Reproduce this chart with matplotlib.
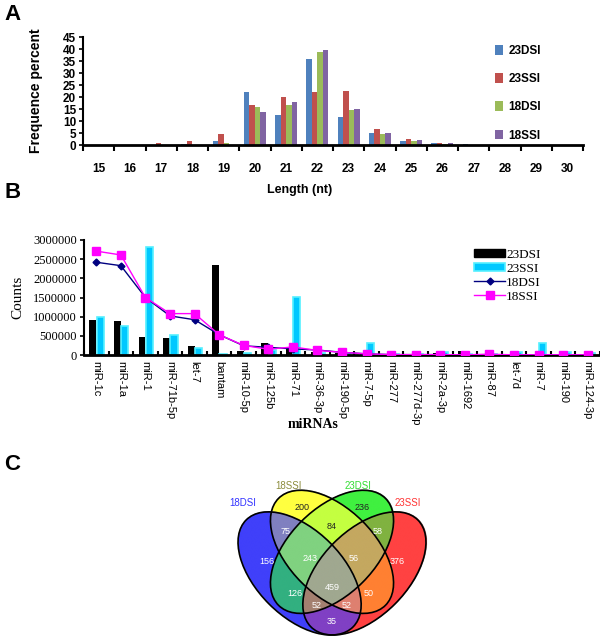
import numpy as np
import matplotlib
matplotlib.use("Agg")
import matplotlib.pyplot as plt
from matplotlib.patches import Ellipse, Patch
from matplotlib.lines import Line2D

# ---------------- Data ----------------
# Panel A
lengths = [str(v) for v in range(15, 31)]
a_23DSI = [0, 0, 0, 0.5, 1.5, 22.0, 12.7, 35.7, 11.6, 5.0, 1.8, 0.8, 0.5, 0, 0, 0]
a_23SSI = [0, 0.2, 0.8, 1.8, 4.7, 16.5, 20.0, 22.2, 22.4, 6.7, 2.6, 0.7, 0.1, 0, 0, 0]
a_18DSI = [0, 0, 0, 0.1, 0.8, 15.7, 16.7, 38.8, 14.7, 4.5, 1.5, 0.6, 0.1, 0, 0, 0]
a_18SSI = [0, 0, 0, 0.1, 0.2, 13.6, 17.8, 39.6, 15.1, 5.0, 2.0, 0.8, 0.1, 0, 0, 0]
a_series = ["23DSI", "23SSI", "18DSI", "18SSI"]

# Panel B
mirnas = ["miR-1c", "miR-1a", "miR-1", "miR-71b-5p", "let-7", "bantam", "miR-10-5p",
          "miR-125b", "miR-71", "miR-36-3p", "miR-190-5p", "miR-7-5p", "miR-277",
          "miR-277d-3p", "miR-2a-3p", "miR-1692", "miR-87", "let-7d", "miR-7",
          "miR-190", "miR-124-3p"]
b_23DSI = [920000, 880000, 460000, 440000, 240000, 2350000, 110000, 320000, 180000,
           90000, 60000, 50000, 30000, 30000, 40000, 110000, 20000, 10000, 20000, 10000, 10000]
b_23SSI = [980000, 760000, 2820000, 520000, 180000, 30000, 50000, 130000, 1520000,
           40000, 60000, 310000, 20000, 20000, 80000, 30000, 20000, 90000, 310000, 70000, 60000]
b_18DSI = [2420000, 2330000, 1500000, 1020000, 920000, 530000, 240000, 200000, 160000,
           130000, 70000, 30000, 10000, 10000, 10000, 5000, 10000, 5000, 5000, 5000, 5000]
b_18SSI = [2710000, 2610000, 1500000, 1080000, 1080000, 530000, 250000, 150000, 210000,
           120000, 70000, 30000, 10000, 10000, 10000, 5000, 20000, 5000, 5000, 5000, 5000]

# Panel C (Venn counts)
venn_sets = ["18DSI", "18SSI", "23DSI", "23SSI"]
# region key: membership tuple (18DSI, 18SSI, 23DSI, 23SSI)
venn_counts = {
    (1, 0, 0, 0): 156, (0, 1, 0, 0): 200, (0, 0, 1, 0): 236, (0, 0, 0, 1): 376,
    (1, 1, 0, 0): 75, (0, 1, 1, 0): 84, (0, 0, 1, 1): 58, (1, 1, 1, 0): 243,
    (0, 1, 1, 1): 56, (1, 0, 1, 0): 126, (0, 1, 0, 1): 50, (1, 1, 1, 1): 459,
    (1, 0, 1, 1): 52, (1, 1, 0, 1): 52, (1, 0, 0, 1): 35,
}

# ---------------- Figure ----------------
W, H = 600, 636
fig = plt.figure(figsize=(W / 100, H / 100), dpi=100)

def frac(x0, y0, x1, y1):
    return [x0 / W, 1 - y1 / H, (x1 - x0) / W, (y1 - y0) / H]

SANS = ["Liberation Sans", "DejaVu Sans"]
SERIF = ["Liberation Serif", "DejaVu Serif"]

# Panel letters
for letter, (px, py) in zip("ABC", [(4, 15), (4, 193), (4, 465)]):
    fig.text(px / W, 1 - py / H, letter, fontsize=16, fontweight="bold",
             family=SANS, va="center", ha="left")

# ---------------- Panel A ----------------
axA = fig.add_axes(frac(83, 37, 583, 145))
colorsA = ["#4F81BD", "#C0504D", "#9BBB59", "#8064A2"]
xA = np.arange(len(lengths))
bw = 0.175
for i, (vals, c, lab) in enumerate(zip([a_23DSI, a_23SSI, a_18DSI, a_18SSI], colorsA, a_series)):
    axA.bar(xA + (i - 1.5) * bw, vals, width=bw, color=c, label=lab, linewidth=0)
axA.set_xlim(-0.5, len(lengths) - 0.5)
axA.set_ylim(0, 45)
axA.set_yticks(np.arange(0, 46, 5))
axA.set_xticks(np.arange(-0.5, len(lengths), 1.0))
axA.set_xticklabels([])
axA.set_xticks(xA, minor=True)
axA.set_xticklabels(lengths, minor=True)
axA.tick_params(axis="x", which="major", direction="out", length=4, width=1.5)
axA.tick_params(axis="x", which="minor", length=0, pad=13, labelsize=8.5)
axA.tick_params(axis="y", direction="out", length=3, width=1.2, labelsize=8.5, pad=2)
for lab in axA.get_xticklabels(minor=True) + axA.get_yticklabels():
    lab.set_fontweight("bold")
    lab.set_family(SANS)
for s in ["top", "right"]:
    axA.spines[s].set_visible(False)
axA.spines["bottom"].set_linewidth(2)
axA.spines["left"].set_linewidth(1.5)
axA.set_ylabel("Frequence percent", fontsize=10, fontweight="bold", family=SANS, labelpad=14)
fig.text(300 / W, 1 - 190 / H, "Length (nt)", fontsize=9, fontweight="bold",
         family=SANS, ha="center", va="center")
legA = axA.legend(loc="upper left", bbox_to_anchor=(0.815, 0.972), frameon=False,
                  borderaxespad=0, handlelength=0.7, handleheight=0.9, labelspacing=1.38,
                  handletextpad=0.4, prop={"family": SANS, "weight": "bold", "size": 8.5})

# ---------------- Panel B ----------------
axB = fig.add_axes(frac(84, 240, 600, 355))
xB = np.arange(len(mirnas))
bwB = 0.28
axB.bar(xB - 0.14, b_23DSI, width=bwB, color="black", linewidth=0, zorder=2)
axB.bar(xB + 0.16, b_23SSI, width=bwB + 0.02, color="#00C8FF", edgecolor="#55F0FF",
        linewidth=1.2, zorder=2)
axB.plot(xB, b_18DSI, color="#000080", marker="D", markersize=3.5, linewidth=1.0, zorder=3)
axB.plot(xB, b_18SSI, color="#FF00FF", marker="s", markersize=5.5, linewidth=1.0, zorder=4)
axB.set_xlim(-0.5, len(mirnas) - 0.5)
axB.set_ylim(0, 3000000)
axB.set_yticks(np.arange(0, 3000001, 500000))
axB.set_yticklabels([str(v) for v in range(0, 3000001, 500000)], family=SERIF, fontsize=9)
axB.set_xticks(np.arange(-0.5, len(mirnas), 1.0))
axB.set_xticklabels([])
axB.set_xticks(xB, minor=True)
axB.set_xticklabels(mirnas, minor=True, rotation=270, family=SANS, fontsize=8, va="top", ha="center")
axB.tick_params(axis="x", which="major", direction="in", length=3, width=1.5)
axB.tick_params(axis="x", which="minor", length=0, pad=4)
axB.tick_params(axis="y", direction="out", length=3, width=1.2, pad=2)
for s in ["top", "right"]:
    axB.spines[s].set_visible(False)
axB.spines["bottom"].set_linewidth(2)
axB.spines["left"].set_linewidth(1.5)
fig.text(18 / W, 1 - 297 / H, "Counts", fontsize=11, family=SERIF, rotation=90,
         ha="center", va="center")
fig.text(313 / W, 1 - 425 / H, "miRNAs", fontsize=10, family=SERIF, fontweight="bold",
         ha="center", va="center")
handlesB = [
    Patch(facecolor="black", edgecolor="black", label="23DSI"),
    Patch(facecolor="#00C8FF", edgecolor="#55F0FF", linewidth=1.2, label="23SSI"),
    Line2D([], [], color="#000080", marker="D", markersize=3.5, linewidth=1.0, label="18DSI"),
    Line2D([], [], color="#FF00FF", marker="s", markersize=5.5, linewidth=1.0, label="18SSI"),
]
axB.legend(handles=handlesB, loc="upper left", bbox_to_anchor=(0.745, 0.97), frameon=False,
           handlelength=2.4, handleheight=0.6, labelspacing=0.15, handletextpad=0.05,
           borderaxespad=0, prop={"family": SERIF, "size": 9.5})

# ---------------- Panel C (Venn) ----------------
scale = 216.0                 # pixels per model unit
cx_px, ybase_px = 332.0, 635.0  # pixel of model (0.5, 0.185)
ybase_m = 0.185

def px2m(px, py):
    return 0.5 + (px - cx_px) / scale, ybase_m + (ybase_px - py) / scale

y0m, y1m = 0.18, 0.9
x0m, x1m = 0.0, 1.0
left_px = cx_px - 0.5 * scale
right_px = cx_px + 0.5 * scale
top_px = ybase_px - (y1m - ybase_m) * scale
bot_px = ybase_px - (y0m - ybase_m) * scale
axC = fig.add_axes(frac(left_px, top_px, right_px, bot_px))
axC.set_xlim(x0m, x1m)
axC.set_ylim(y0m, y1m)
axC.axis("off")

ell_a, ell_b = 0.35, 0.2
ell_params = [((0.35, 0.47), -45), ((0.5, 0.57), -45), ((0.5, 0.57), 45), ((0.65, 0.47), 45)]

region_colors = {
    (1, 0, 0, 0): (64, 64, 250), (0, 1, 0, 0): (255, 255, 64), (0, 0, 1, 0): (64, 240, 64),
    (0, 0, 0, 1): (255, 66, 66), (1, 1, 0, 0): (128, 128, 192), (0, 1, 1, 0): (196, 255, 64),
    (0, 0, 1, 1): (128, 178, 64), (1, 1, 1, 0): (128, 210, 128), (0, 1, 1, 1): (196, 168, 96),
    (1, 0, 1, 0): (50, 176, 128), (0, 1, 0, 1): (255, 128, 50), (1, 1, 1, 1): (160, 168, 144),
    (1, 0, 1, 1): (164, 128, 112), (1, 1, 0, 1): (222, 128, 112), (1, 0, 0, 1): (128, 64, 196),
}

nx, ny = 900, 648
gx = np.linspace(x0m, x1m, nx)
gy = np.linspace(y0m, y1m, ny)
GX, GY = np.meshgrid(gx, gy)
masks = []
for (cx, cy), ang in ell_params:
    t = np.deg2rad(ang)
    dx, dy = GX - cx, GY - cy
    u = dx * np.cos(t) + dy * np.sin(t)
    v = -dx * np.sin(t) + dy * np.cos(t)
    masks.append((u / ell_a) ** 2 + (v / ell_b) ** 2 <= 1)
img = np.zeros((ny, nx, 4))
for key, col in region_colors.items():
    m = np.ones_like(GX, dtype=bool)
    for k, mk in zip(key, masks):
        m &= mk if k else ~mk
    img[m, :3] = np.array(col) / 255.0
    img[m, 3] = 1.0
axC.imshow(img, extent=(x0m, x1m, y0m, y1m), origin="lower", interpolation="bilinear",
           aspect="auto", zorder=1)
for (cx, cy), ang in ell_params:
    axC.add_patch(Ellipse((cx, cy), 2 * ell_a, 2 * ell_b, angle=ang, fill=False,
                          edgecolor="black", linewidth=1.2, zorder=2))

# label positions (pixel layout)
label_px = {
    (0, 1, 0, 0): (302, 508), (0, 0, 1, 0): (362, 508),
    (1, 1, 0, 0): (286, 532), (0, 1, 1, 0): (332, 527), (0, 0, 1, 1): (378, 532),
    (1, 0, 0, 0): (267, 562), (1, 1, 1, 0): (310, 559), (0, 1, 1, 1): (354, 559),
    (0, 0, 0, 1): (397, 562), (1, 0, 1, 0): (295, 593), (1, 1, 1, 1): (332, 587),
    (0, 1, 0, 1): (369, 593), (1, 0, 1, 1): (317, 606), (1, 1, 0, 1): (347, 606),
    (1, 0, 0, 1): (332, 622),
}
dark_labels = {(0, 1, 0, 0), (0, 0, 1, 0), (0, 1, 1, 0)}
for key, n in venn_counts.items():
    x, y = px2m(*label_px[key])
    axC.text(x, y, str(n), ha="center", va="center", fontsize=6.5, family=SANS,
             color="#222222" if key in dark_labels else "white", zorder=3)

set_label_px = [(243, 503), (288, 486), (358, 486), (408, 503)]
set_label_cols = ["#3333FF", "#8C8C3C", "#33DD33", "#FF3333"]
for name, (px, py), c in zip(venn_sets, set_label_px, set_label_cols):
    x, y = px2m(px, py)
    axC.text(x, y, name, ha="center", va="center", fontsize=7, family=SANS, color=c, zorder=3)

fig.savefig("out.png", dpi=100)
